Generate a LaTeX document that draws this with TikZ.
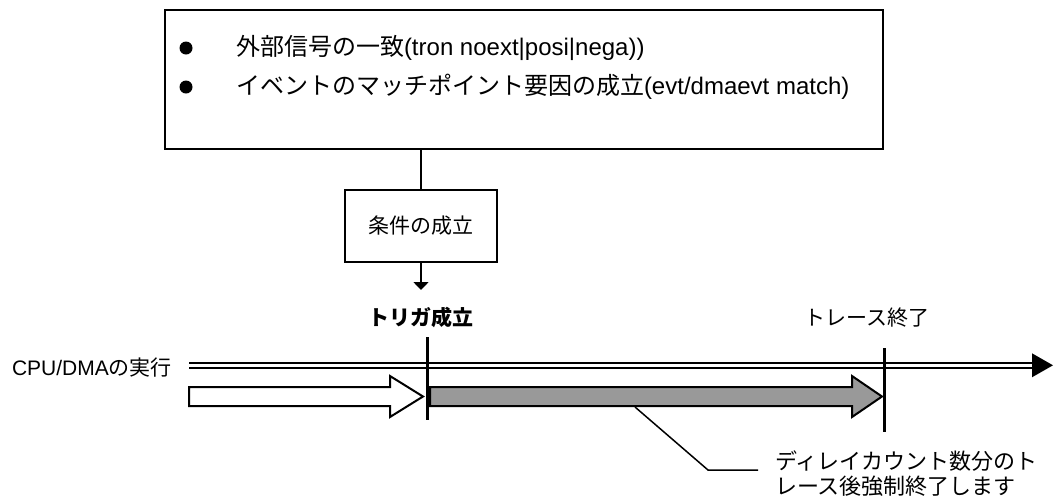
\documentclass[tikz,border=0pt]{standalone}
\usepackage{fontspec}
\setmainfont{Liberation Sans}
\newfontfamily\jp{Noto Sans CJK JP}
\usetikzlibrary{arrows.meta}
\newcommand{\ja}[1]{{\jp #1}}

\begin{document}
\begin{tikzpicture}[x=0.5pt, y=-0.5pt,
every node/.style = {inner sep=0pt, outer sep=0pt},
bigbox/.style = {draw, line width=1.3pt},
condbox/.style = {draw, line width=0.75pt},
txt/.style = {font=\fontsize{10.5pt}{12pt}\selectfont},
boldtxt/.style = {font=\fontsize{10.5pt}{12pt}\selectfont\bfseries},
notetxt/.style = {anchor=base west, font=\fontsize{11pt}{12pt}\selectfont},
item/.style = {anchor=west, font=\fontsize{12pt}{14pt}\selectfont},
dot/.style = {circle, fill, minimum size=6.5pt},
fat/.style = {draw, line width=1pt},
cut/.style = {line width=1.5pt}]
\useasboundingbox (0,0) rectangle (1054,499);

\node[bigbox, minimum width=359pt, minimum height=69.5pt] (cause) at (524,79.5) {};
\node[dot] (d1) at (186,48) {};
\node[dot] (d2) at (186,87) {};
\node[item] (c1) at (236,48) {\ja{外部信号の一致}(tron noext|posi|nega))};
\node[item] (c2) at (236,87) {\ja{イベントのマッチポイント要因の成立}(evt/dmaevt match)};

\node[condbox, txt, minimum width=76pt, minimum height=36pt] (cond) at (421,226) {\ja{条件の成立}};
\node[boldtxt] (trig) at (421,317) {\ja{トリガ成立}};
\coordinate (trigtip) at (421,290);
\draw[line width=0.8pt] (cond.north |- cause.south) -- (cond.north);
\draw[line width=0.8pt, -{Triangle[length=4pt, width=7.5pt]}] (cond.south) -- (trigtip);

\node[txt, anchor=west] (cpu) at (12,368) {CPU/DMA\ja{の実行}};
\node[txt] (fin) at (867,318) {\ja{トレース終了}};

\coordinate (run0) at (189,365.3);
\coordinate (run1) at (1032,365.3);
\draw[line width=0.9pt, double, double distance=1.7pt] (run0) -- (run1);
\fill (run1) ++(0,-12) -- ++(21,12) -- ++(-21,12) -- cycle;

\draw[fat, fill=white] (189,387) -- (390,387) -- (390,376) -- (423,396.5) -- (390,417) -- (390,406) -- (189,406) -- cycle;
\draw[fat, fill=black!40] (430,387) -- (852,387) -- (852,376) -- (882,396.5) -- (852,417) -- (852,406) -- (430,406) -- cycle;

\coordinate (trigA) at (427,337);
\coordinate (trigB) at (427,420);
\coordinate (finA) at (884,348);
\coordinate (finB) at (884,432);
\draw[cut] (trigA) -- (trigB);
\draw[cut] (finA) -- (finB);

\node[notetxt] (note1) at (775,469) {\ja{ディレイカウント数分のト}};
\node[notetxt] (note2) at (775,494) {\ja{レース後強制終了します}};
\coordinate (lead0) at (635,407);
\coordinate (lead1) at (708,470);
\coordinate (lead2) at (758,470);
\draw[line width=0.75pt] (lead0) -- (lead1) -- (lead2);
\end{tikzpicture}
\end{document}
